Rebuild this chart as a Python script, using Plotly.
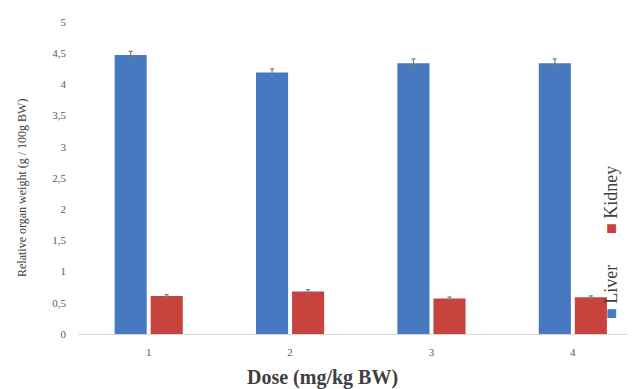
import plotly.graph_objects as go

doses = ["1", "2", "3", "4"]
liver = [4.47, 4.19, 4.34, 4.34]
liver_err = [0.06, 0.06, 0.07, 0.07]
kidney = [0.61, 0.68, 0.57, 0.59]
kidney_err = [0.02, 0.03, 0.02, 0.02]
y_ticks = [0, 0.5, 1, 1.5, 2, 2.5, 3, 3.5, 4, 4.5, 5]
y_ticktext = ["0", "0,5", "1", "1,5", "2", "2,5", "3", "3,5", "4", "4,5", "5"]

BLUE = "#4779C1"
RED = "#C7443E"
SERIF = "Liberation Serif, Times New Roman, serif"

OFF = 8  # page body margin
W, H = 636 - OFF, 389 - OFF
L, T = 78 - OFF, 22 - OFF
R = 8
B = H - (334 - OFF)
PW, PH = W - L - R, H - T - B


def px(xp):
    return (xp - OFF - L) / PW


def py(yp):
    return ((H - B) - (yp - OFF)) / PH


fig = go.Figure()
fig.add_trace(go.Bar(
    x=doses, y=liver, name="Liver", marker=dict(color=BLUE, line=dict(width=0)),
    error_y=dict(type="data", array=liver_err, color="#7a7a7a", thickness=1.2, width=2),
))
fig.add_trace(go.Bar(
    x=doses, y=kidney, name="Kidney", marker=dict(color=RED, line=dict(width=0)),
    error_y=dict(type="data", array=kidney_err, color="#7a7a7a", thickness=1.2, width=2),
))

fig.update_layout(
    width=W, height=H,
    margin=dict(l=L, r=R, t=T, b=B, autoexpand=False),
    paper_bgcolor="white", plot_bgcolor="white",
    barmode="group", bargap=0.49, bargroupgap=0.11,
    showlegend=False,
    font=dict(family=SERIF, color="#595959"),
    xaxis=dict(
        type="category", range=[-0.5, 3.39], automargin=False,
        showline=True, linecolor="#d9d9d9", linewidth=1,
        showgrid=False, ticks="", zeroline=False, ticklabelstandoff=8,
        tickfont=dict(family=SERIF, size=11, color="#595959"),
    ),
    yaxis=dict(
        range=[0, 5], tickvals=y_ticks, ticktext=y_ticktext, automargin=False,
        showgrid=False, zeroline=False, showline=False, ticks="", ticklabelstandoff=11,
        tickfont=dict(family=SERIF, size=11, color="#595959"),
    ),
    annotations=[
        dict(text="Relative organ weight (g / 100g BW)", textangle=-90,
             xref="paper", yref="paper", x=px(22), y=py(188),
             xanchor="center", yanchor="middle", showarrow=False,
             font=dict(family=SERIF, size=12, color="#404040")),
        dict(text="<b>Dose (mg/kg BW)</b>", xref="paper", yref="paper",
             x=px(322), y=py(377), xanchor="center", yanchor="middle",
             showarrow=False, font=dict(family=SERIF, size=20, color="#404040")),
        dict(text="<span style='color:%s'>■</span> Liver" % BLUE, textangle=-90,
             xref="paper", yref="paper", x=px(611), y=py(292),
             xanchor="center", yanchor="middle", showarrow=False,
             font=dict(family=SERIF, size=18, color="#404040")),
        dict(text="<span style='color:%s'>■</span> Kidney" % RED, textangle=-90,
             xref="paper", yref="paper", x=px(611), y=py(200),
             xanchor="center", yanchor="middle", showarrow=False,
             font=dict(family=SERIF, size=18, color="#404040")),
    ],
)

fig.write_html("out.html")
